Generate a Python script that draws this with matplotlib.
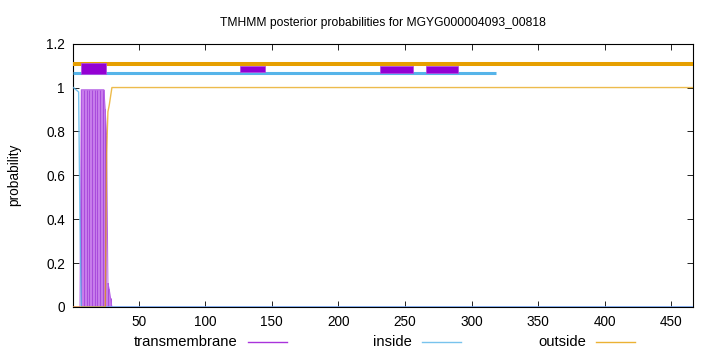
import numpy as np
import matplotlib
matplotlib.use('Agg')
import matplotlib.pyplot as plt
from matplotlib.lines import Line2D

plt.rcParams['font.family'] = ['Liberation Sans', 'DejaVu Sans']
plt.rcParams['font.size'] = 9.8

seq_len = 466
title = 'TMHMM posterior probabilities for MGYG000004093_00818'

# posterior probabilities (positions 1..30, then flat)
inside_head = [1.0, 0.995, 0.99, 0.985, 0.98, 0.4, 0.0]
tm_pos = list(range(7, 30))
tm_vals = [0.99] * 18 + [0.9, 0.78, 0.11, 0.08, 0.04]
outside_head = [0.0] * 25 + [0.7, 0.89, 0.92, 0.96]

# topology bars at the top
out_bar_end = 466
in_bar_end = 318
tm_boxes = [(6.8, 25.9, 1.062, 1.110),
            (126, 145.3, 1.073, 1.097),
            (231, 255.7, 1.065, 1.100),
            (266, 289.7, 1.065, 1.100)]

c_tm = '#9400D3'
c_in = '#56B4E9'
c_out = '#E69F00'

x = np.arange(1, seq_len + 1)
inside = np.zeros(seq_len)
inside[:len(inside_head)] = inside_head
outside = np.ones(seq_len)
outside[:len(outside_head)] = outside_head
tm = np.zeros(seq_len)
tm[np.array(tm_pos) - 1] = tm_vals

fig = plt.figure(figsize=(7.2, 3.52), dpi=100)
ax = fig.add_axes([0.1018, 0.128, 0.962 - 0.1018, 0.876 - 0.128])

# transmembrane as impulses
ax.bar(x, tm, width=1.0, color='#C77CEB', edgecolor='none', zorder=2)
for p, v in zip(tm_pos[::2], tm_vals[::2]):
    ax.vlines(p, 0, v, color='#A94BDC', lw=0.7, zorder=3)
ax.plot(x, tm, color='#B560E6', lw=0.7, zorder=3)
ax.plot(x, inside, color=c_in, lw=1.0, alpha=0.8, zorder=4)
ax.plot(x, outside, color=c_out, lw=1.0, alpha=0.7, zorder=4)

# topology lines
ax.plot([1, out_bar_end], [1.107, 1.107], color=c_out, lw=2.9, solid_capstyle='butt', zorder=5)
ax.plot([1, in_bar_end], [1.067, 1.067], color=c_in, lw=2.2, solid_capstyle='butt', zorder=5)
for x0, x1, y0, y1 in tm_boxes:
    ax.add_patch(plt.Rectangle((x0, y0), x1 - x0, y1 - y0, facecolor=c_tm,
                               edgecolor='#B050E0', lw=0.6, zorder=6))

ax.set_xlim(1, seq_len)
ax.set_ylim(0, 1.2)
ax.set_xticks(np.arange(50, 451, 50))
ax.set_yticks([0, 0.2, 0.4, 0.6, 0.8, 1.0, 1.2])
ax.set_yticklabels(['0', '0.2', '0.4', '0.6', '0.8', '1', '1.2'])
ax.tick_params(direction='in', top=True, right=True, length=4, width=0.6, pad=6)
for s in ax.spines.values():
    s.set_linewidth(0.8)
    s.set_color('black')
ax.set_ylabel('probability', labelpad=18)
ax.set_title(title, fontsize=8.7, pad=13)

# gnuplot-style key below the plot
entries = [('transmembrane', c_tm), ('inside', c_in), ('outside', c_out)]
col_end = [287, 461, 635]
W, H = 720.0, 352.0
ky = 10 / H
for (lab, col), xe in zip(entries, col_end):
    fig.text((xe - 49) / W, ky, lab, ha='right', va='center', fontsize=10.6)
    fig.add_artist(Line2D([(xe - 39) / W, xe / W], [ky, ky], color=col, lw=1.0,
                          alpha=0.8, transform=fig.transFigure))

fig.savefig('out.png', dpi=100)
